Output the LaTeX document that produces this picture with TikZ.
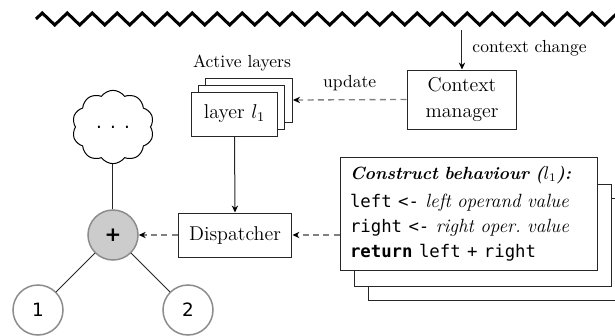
\documentclass[tikz,border=0pt]{standalone}
\usepackage{fontspec}
\setsansfont{DejaVu Sans}
\setmonofont{DejaVu Sans Mono}
\usetikzlibrary{arrows.meta,decorations.pathmorphing,shapes.symbols}

\begin{document}
\begin{tikzpicture}[x=0.6pt,y=-0.6pt,
  box/.style={draw=black!85, line width=0.6pt, fill=white, inner sep=0pt,
    font=\fontsize{12}{14.4}\selectfont, align=center},
  smalltext/.style={font=\fontsize{10.5}{12.6}\selectfont, inner sep=0pt},
  tip/.style={-{Stealth[length=4.2pt,width=3.8pt,inset=1.4pt,color=black]}},
  plain/.style={line width=0.6pt, draw=black!85},
  dashline/.style={line width=0.8pt, draw=black!50, dash pattern=on 3.6pt off 2.6pt},
  astnode/.style={circle, draw=black!45, line width=0.9pt, minimum size=30pt,
    inner sep=0pt, font=\sffamily\fontsize{11}{13}\selectfont},
  codebox/.style={draw=black!85, line width=0.6pt, fill=white, inner sep=0pt,
    minimum width=154.8pt},
  codett/.style={},
]
\useasboundingbox (0,0) rectangle (615,336);

% environment: the changing context
\draw[line width=1.8pt, decorate,
      decoration={zigzag, segment length=15pt, amplitude=3.6pt}]
  (36,19) -- (680,19);

% context manager
\coordinate (ctxin) at (462,30);
\node[box, minimum width=66pt, minimum height=35.4pt] (cm) at (462,99.5)
  {Context\\[1pt]manager};
\draw[plain, tip] (ctxin) -- node[smalltext, anchor=west, xshift=6pt, pos=0.45]
  {context change} (cm.north);

% stack of active layers
\node[box, minimum width=52.2pt, minimum height=26.4pt] (lback) at (249,100) {};
\node[box, minimum width=52.2pt, minimum height=26.4pt] (lmid) at (241.5,107) {};
\node[box, minimum width=52.2pt, minimum height=26.4pt] (lfront) at (234.5,114)
  {layer $l_1$};
\node[smalltext] (actlbl) at (242,63) {Active layers};

\draw[dashline, tip] (cm.west) -- node[smalltext, above, yshift=5pt] {update}
  (lback.east);

% dispatcher
\node[box, minimum width=68.4pt, minimum height=26.4pt] (disp) at (235,235)
  {Dispatcher};
\draw[plain, tip] (lfront.south) -- (disp.north);

% behaviour of the construct, one card per layer
\node[codebox, minimum height=61.2pt] (cb3) at (497,249) {};
\node[codebox, minimum height=61.2pt] (cb2) at (483,235) {};
\node[codebox, minimum height=67.8pt, inner xsep=6pt, text width=142.8pt,
      align=left, font=\fontsize{11.5}{15}\selectfont] (cb1) at (469,213.5)
  {{\fontsize{10.6}{15}\selectfont\bfseries\itshape Construct behaviour ($l_1$):}\\[2pt]
   {\ttfamily\fontsize{10.4}{15}\selectfont left <-} \textit{left operand value}\\
   {\ttfamily\fontsize{10.4}{15}\selectfont right <-} \textit{right oper.\ value}\\
   {\ttfamily\fontsize{10.4}{15}\selectfont\textbf{return} left + right}};

\draw[dashline, tip] (disp.east -| cb1.west) -- (disp.east);

% AST fragment
\node[astnode, fill=black!20, font=\sffamily\bfseries\fontsize{12}{14}\selectfont]
  (plus) at (113,235) {+};
\node[astnode, fill=white] (one) at (38,310) {1};
\node[astnode, fill=white] (two) at (188,310) {2};
\node[cloud, draw=black, line width=0.6pt, cloud puffs=10, cloud puff arc=110,
      aspect=1.15, minimum width=49pt, minimum height=44pt, inner sep=0pt,
      font=\sffamily\fontsize{11}{13}\selectfont]
  (up) at (113,127) {.\hspace{0.45em}.\hspace{0.45em}.};

\draw[dashline, tip] (disp.west) -- (plus.east);
\draw[plain] (up) -- (plus);
\draw[plain] (plus) -- (one);
\draw[plain] (plus) -- (two);
\end{tikzpicture}
\end{document}
